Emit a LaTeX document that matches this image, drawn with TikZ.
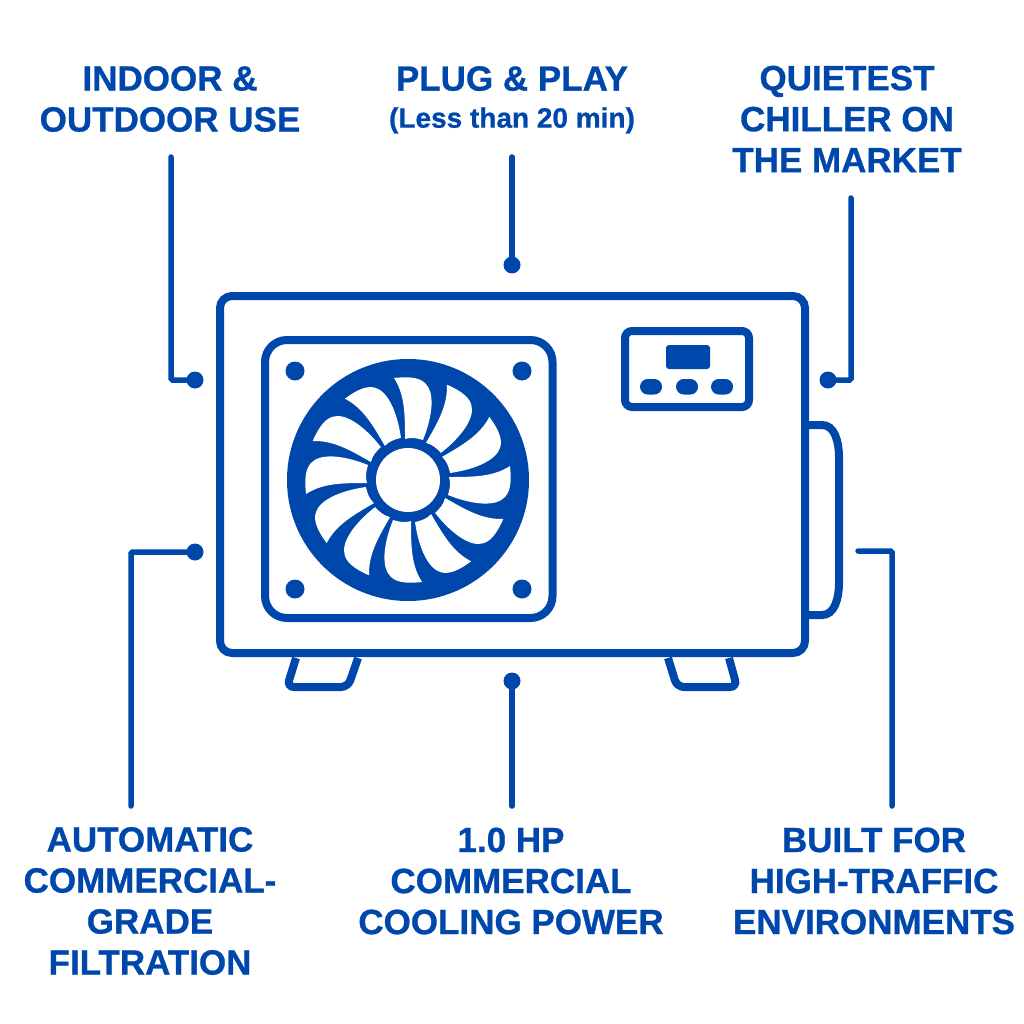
\documentclass[tikz,border=0pt]{standalone}
\usepackage{fontspec}
\setmainfont{Liberation Sans}[BoldFeatures={FakeBold=0.8}]
\definecolor{cobalt}{HTML}{0047AB}
\tikzset{
  outline/.style={draw=cobalt,line width=8pt},
  foot/.style={draw=cobalt,line width=8pt,rounded corners=7pt},
  leader/.style={draw=cobalt,line width=5.5pt,rounded corners=1.5pt,line cap=round},
  pin/.style={circle,fill=cobalt,minimum size=17pt,inner sep=0pt},
  screw/.style={circle,fill=cobalt,minimum size=19pt,inner sep=0pt},
  callout/.style={text=cobalt,align=center,inner sep=0pt,font=\bfseries\fontsize{35}{41}\selectfont},
}

\begin{document}
\begin{tikzpicture}[x=1pt,y=-1pt]
\useasboundingbox (0,0) rectangle (1024,1024);

% unit
\draw[foot] (296,658) -- (287,687) -- (348,687) -- (358,658);
\draw[foot] (668,658) -- (677,687) -- (737,687) -- (729,658);
\draw[outline] (805,425) -- (822,425) .. controls (834,425) and (839,440) .. (839,458)
  -- (839,582) .. controls (839,600) and (834,615) .. (822,615) -- (805,615);
\draw[outline,fill=white,rounded corners=12pt] (220,296) rectangle (805,653);

% fan
\draw[outline,rounded corners=22pt] (265,340) rectangle (552.5,618);
\node[screw] (screwA) at (295,371) {};
\node[screw] (screwB) at (522,371) {};
\node[screw] (screwC) at (295,589) {};
\node[screw] (screwD) at (522,589) {};
\fill[cobalt] (408,480) circle (121);
\foreach \a in {0,30,...,330}
  \fill[white,shift={(408,480)},rotate=\a] (-14,-102) .. controls (-5,-103) and (10,-104) .. (17,-97)
    .. controls (27,-88) and (25,-65) .. (15,-40) .. controls (8,-42) and (3,-43) .. (-3,-41)
    .. controls (-3,-65) and (-3,-85) .. cycle;
\fill[cobalt] (408,480) circle (41);
\fill[white] (408,480) circle (32);

% panel
\draw[outline,rounded corners=7pt] (625,331) rectangle (749,407);
\fill[cobalt,rounded corners=3pt] (666,345) rectangle (710,369);
\foreach \x in {651,687,722}
  \fill[cobalt,rounded corners=7.7pt] (\x-11,379) rectangle (\x+11,394.5);

% labels
\node[callout] (indoor) at (170,99) {INDOOR \&\\OUTDOOR USE};
\node[callout,anchor=north] (plug) at (512,66) {PLUG \& PLAY\\[-4pt]{\fontsize{28}{30}\selectfont(Less than 20 min)}};
\node[callout] (quiet) at (847,119) {QUIETEST\\CHILLER ON\\THE MARKET};
\node[callout] (filter) at (150,901) {AUTOMATIC\\COMMERCIAL-\\GRADE\\FILTRATION};
\node[callout] (power) at (511,881) {1.0 HP\\COMMERCIAL\\COOLING POWER};
\node[callout] (traffic) at (874,881) {BUILT FOR\\HIGH-TRAFFIC\\ENVIRONMENTS};

% leaders
\node[pin] (indoorPin) at (195,380) {};
\node[pin] (plugPin) at (512,265) {};
\node[pin] (quietPin) at (828,380) {};
\node[pin] (filterPin) at (195,552) {};
\node[pin] (powerPin) at (512,681) {};
\coordinate (trafficEnd) at (858,551);
\coordinate (indoorTop) at (171,157);
\coordinate (plugTop) at (512,157);
\coordinate (quietTop) at (851,198);
\coordinate (filterFoot) at (131,806);
\coordinate (powerFoot) at (512,806);
\coordinate (trafficFoot) at (892,806);
\draw[leader] (indoorTop) |- (indoorPin);
\draw[leader] (plugTop) -- (plugPin);
\draw[leader] (quietTop) |- (quietPin);
\draw[leader] (filterFoot) |- (filterPin);
\draw[leader] (powerFoot) -- (powerPin);
\draw[leader] (trafficFoot) |- (trafficEnd);

\end{tikzpicture}
\end{document}
